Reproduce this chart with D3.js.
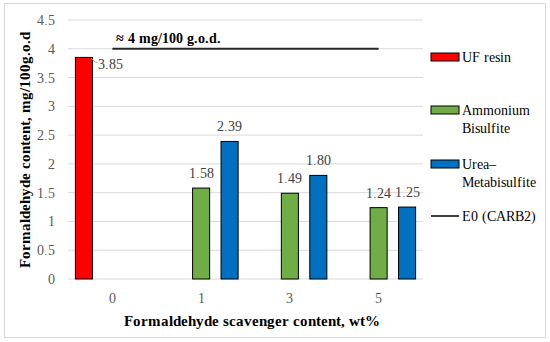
<!DOCTYPE html>
<html>
<head>
<meta charset="utf-8">
<script src="https://cdn.jsdelivr.net/npm/d3@7"></script>
<style>
  @font-face { font-family: "ChartSerif"; font-weight: normal;
    src: local("Liberation Serif"), local("LiberationSerif"), local("LiberationSerif-Regular"), local("DejaVu Serif"), local("DejaVuSerif"); }
  @font-face { font-family: "ChartSerif"; font-weight: bold;
    src: local("Liberation Serif Bold"), local("LiberationSerif-Bold"), local("DejaVu Serif Bold"), local("DejaVuSerif-Bold"); }
  body { margin: 0; background: #fff; }
  svg text { font-family: "ChartSerif", "Liberation Serif", serif; }
</style>
</head>
<body>
<svg width="550" height="342"></svg>
<script>
var categories = ["0", "1", "3", "5"];
var seriesNames = ["UF resin", "Ammonium Bisulfite", "Urea\u2013Metabisulfite"];
var ufResin = [3.85, null, null, null];
var ammonium = [null, 1.58, 1.49, 1.24];
var ureaMeta = [null, 2.39, 1.80, 1.25];
var labels = [["3.85", null, null, null], [null, "1.58", "1.49", "1.24"], [null, "2.39", "1.80", "1.25"]];
var yTicks = [0, 0.5, 1, 1.5, 2, 2.5, 3, 3.5, 4, 4.5];
var e0Limit = 4;
var colors = ["#ff0000", "#70ad47", "#0070c0"];

var svg = d3.select("svg");

// outer frame
svg.append("rect")
    .attr("x", 4.5).attr("y", 3.5)
    .attr("width", 541).attr("height", 334)
    .attr("fill", "#fff").attr("stroke", "#d9d9d9");

var plotLeft = 68, plotRight = 423, plotTop = 20, plotBottom = 279;

var y = d3.scaleLinear().domain([0, 4.5]).range([plotBottom, plotTop]);
var x0 = d3.scaleBand().domain(categories).range([plotLeft, plotRight]);
var x1 = d3.scaleBand().domain(d3.range(3)).range([0, x0.bandwidth()])
    .paddingInner(0.4).paddingOuter(0.26);

// gridlines
svg.append("g").selectAll("line")
    .data(yTicks)
    .enter().append("line")
    .attr("x1", plotLeft).attr("x2", plotRight)
    .attr("y1", function(d) { return y(d); })
    .attr("y2", function(d) { return y(d); })
    .attr("stroke", "#d9d9d9").attr("stroke-width", 1);

// y tick labels
var yAxis = svg.append("g")
    .attr("transform", "translate(" + (plotLeft - 13) + ",0)")
    .call(d3.axisLeft(y).tickValues(yTicks).tickSize(0).tickPadding(0)
        .tickFormat(function(d) { return String(d); }));
yAxis.select(".domain").remove();
yAxis.attr("font-family", null).attr("font-size", null);
yAxis.selectAll("text")
    .attr("fill", "#595959")
    .style("font-size", "14px");

// x tick labels
var xAxis = svg.append("g")
    .attr("transform", "translate(0," + plotBottom + ")")
    .call(d3.axisBottom(x0).tickSize(0).tickPadding(14));
xAxis.select(".domain").remove();
xAxis.attr("font-family", null).attr("font-size", null);
xAxis.selectAll("text")
    .attr("fill", "#595959")
    .style("font-size", "14px");

// bars
var allSeries = [ufResin, ammonium, ureaMeta];
var barData = [];
allSeries.forEach(function(vals, s) {
    vals.forEach(function(v, i) {
        if (v != null) barData.push({ s: s, cat: categories[i], value: v, label: labels[s][i] });
    });
});

svg.append("g").selectAll("rect")
    .data(barData)
    .enter().append("rect")
    .attr("x", function(d) { return x0(d.cat) + x1(d.s); })
    .attr("y", function(d) { return y(d.value); })
    .attr("width", x1.bandwidth())
    .attr("height", function(d) { return plotBottom - y(d.value); })
    .attr("fill", function(d) { return colors[d.s]; })
    .attr("stroke", "#000").attr("stroke-width", 1);

// data labels
barData.forEach(function(d) {
    var bx = x0(d.cat) + x1(d.s);
    if (d.s === 0) {
        var ty = y(d.value);
        svg.append("path")
            .attr("d", "M" + (bx + x1.bandwidth() - 1) + "," + (ty + 1) +
                  "L" + (bx + x1.bandwidth() + 3) + "," + (ty + 5) +
                  "L" + (bx + x1.bandwidth() + 5) + "," + (ty + 5))
            .attr("fill", "none").attr("stroke", "#a6a6a6").attr("stroke-width", 1);
        svg.append("text")
            .attr("x", bx + x1.bandwidth() + 6)
            .attr("y", ty + 12)
            .attr("fill", "#404040")
            .style("font-size", "14px")
            .text(d.label);
    } else {
        svg.append("text")
            .attr("x", bx + x1.bandwidth() / 2)
            .attr("y", y(d.value) - 10)
            .attr("text-anchor", "middle")
            .attr("fill", "#404040")
            .style("font-size", "14px")
            .text(d.label);
    }
});

// E0 line
svg.append("line")
    .attr("x1", x0("0") + x0.bandwidth() / 2)
    .attr("x2", x0("5") + x0.bandwidth() / 2)
    .attr("y1", y(e0Limit)).attr("y2", y(e0Limit))
    .attr("stroke", "#262626").attr("stroke-width", 2);

svg.append("text")
    .attr("x", x0("0") + x0.bandwidth() / 2 + 4)
    .attr("y", y(e0Limit) - 6)
    .attr("font-weight", "bold")
    .attr("fill", "#000")
    .style("font-size", "14px")
    .text("\u2248 4 mg/100 g.o.d.");

// axis titles
svg.append("text")
    .attr("x", (plotLeft + plotRight) / 2 + 6)
    .attr("y", 326)
    .attr("text-anchor", "middle")
    .attr("font-weight", "bold")
    .style("font-size", "15px")
    .text("Formaldehyde scavenger content, wt%");

svg.append("text")
    .attr("transform", "translate(30," + ((plotTop + plotBottom) / 2) + ") rotate(-90)")
    .attr("text-anchor", "middle")
    .attr("font-weight", "bold")
    .style("font-size", "15px")
    .text("Formaldehyde content, mg/100g.o.d");

// legend
var legend = [
    { lines: ["UF resin"], y: 57, type: "rect", color: colors[0] },
    { lines: ["Ammonium", "Bisulfite"], y: 110, type: "rect", color: colors[1] },
    { lines: ["Urea\u2013", "Metabisulfite"], y: 164, type: "rect", color: colors[2] },
    { lines: ["E0 (CARB2)"], y: 216, type: "line", color: "#000" }
];
var lg = svg.append("g");
legend.forEach(function(item) {
    if (item.type === "rect") {
        lg.append("rect")
            .attr("x", 431).attr("y", item.y - 4)
            .attr("width", 28).attr("height", 8)
            .attr("fill", item.color).attr("stroke", "#000");
    } else {
        lg.append("line")
            .attr("x1", 431).attr("x2", 459)
            .attr("y1", item.y).attr("y2", item.y)
            .attr("stroke", "#000").attr("stroke-width", 1.5);
    }
    item.lines.forEach(function(t, k) {
        lg.append("text")
            .attr("x", 462)
            .attr("y", item.y + 5 + k * 18)
            .attr("fill", "#000")
            .style("font-size", "14px")
            .text(t);
    });
});
</script>
</body>
</html>
